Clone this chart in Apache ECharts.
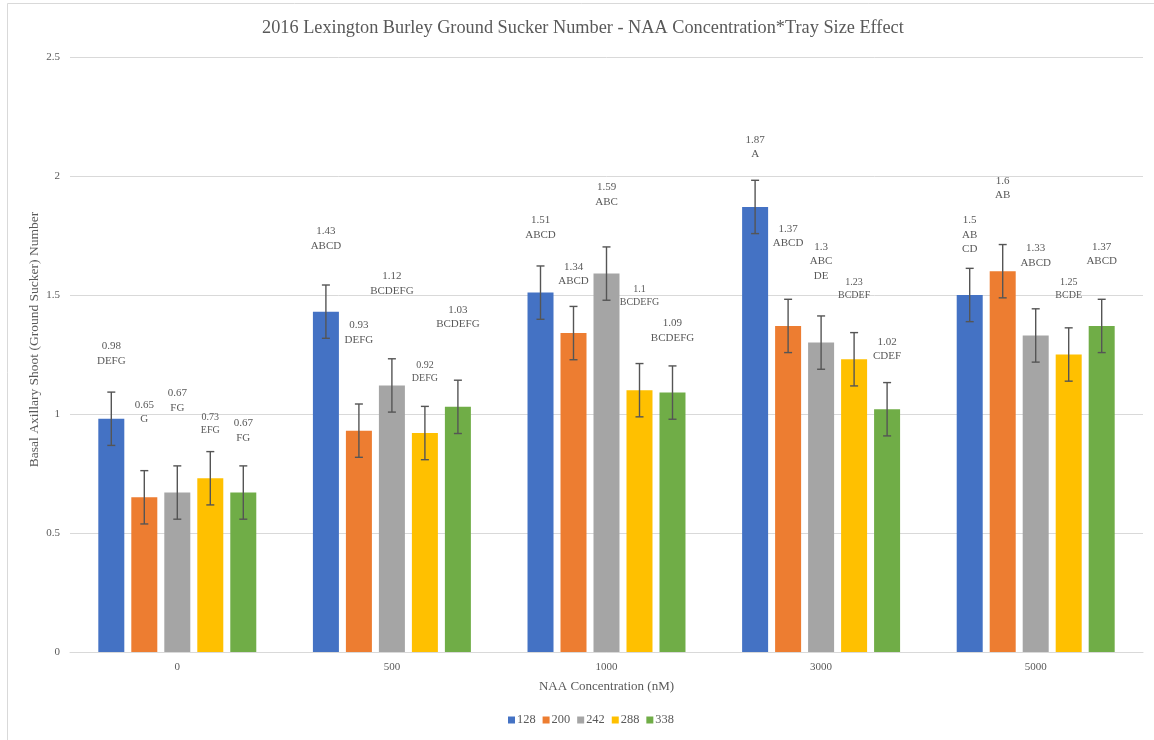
<!DOCTYPE html>
<html>
<head>
<meta charset="utf-8">
<script src="https://cdn.jsdelivr.net/npm/echarts@6/dist/echarts.min.js"></script>
<style>
  html, body { margin: 0; padding: 0; background: #fff; }
  #chart { width: 1154px; height: 740px; }
</style>
</head>
<body>
<div id="chart"></div>
<script>
// NAA concentration groups (nM) and tray sizes (cells per tray)
const categories = ['0', '500', '1000', '3000', '5000'];
const trays = ['128', '200', '242', '288', '338'];

// Mean ground sucker number per tray size, one value per NAA concentration
const t128 = [0.98, 1.43, 1.51, 1.87, 1.50];
const t200 = [0.65, 0.93, 1.34, 1.37, 1.60];
const t242 = [0.67, 1.12, 1.59, 1.30, 1.33];
const t288 = [0.73, 0.92, 1.10, 1.23, 1.25];
const t338 = [0.67, 1.03, 1.09, 1.02, 1.37];

// Standard error of each mean
const e128 = [0.112, 0.112, 0.112, 0.112, 0.112];
const e200 = [0.112, 0.112, 0.112, 0.112, 0.112];
const e242 = [0.112, 0.112, 0.112, 0.112, 0.112];
const e288 = [0.112, 0.112, 0.112, 0.112, 0.112];
const e338 = [0.112, 0.112, 0.112, 0.112, 0.112];

// Mean separation letters
const g128 = ['DEFG', 'ABCD', 'ABCD', 'A', 'AB\nCD'];
const g200 = ['G', 'DEFG', 'ABCD', 'ABCD', 'AB'];
const g242 = ['FG', 'BCDEFG', 'ABC', 'ABC\nDE', 'ABCD'];
const g288 = ['EFG', 'DEFG', 'BCDEFG', 'BCDEF', 'BCDE'];
const g338 = ['FG', 'BCDEFG', 'BCDEFG', 'CDEF', 'ABCD'];

const yTicks = { min: 0, max: 2.5, interval: 0.5 };

// How far (px) each label block's centre sits above its bar top
const lift128 = [65, 73, 65, 60, 60];
const lift200 = [85, 98, 59, 90, 83];
const lift242 = [92, 102, 79, 81, 80];
const lift288 = [54, 61, 94, 70, 66];
const lift338 = [62, 90, 62, 60, 72];

const values = [t128, t200, t242, t288, t338];
const errors = [e128, e200, e242, e288, e338];
const letters = [g128, g200, g242, g288, g338];
const lifts = [lift128, lift200, lift242, lift288, lift338];
const colors = ['#4472C4', '#ED7D31', '#A5A5A5', '#FFC000', '#70AD47'];

const FONT = '"Liberation Serif", "DejaVu Serif", serif';
const TEXT = '#595959';
const BAR_W = 26;
const BAR_GAP = 7;

const barSeries = trays.map((name, s) => {
  const small = s === 3;
  const fontSize = small ? 10 : 11;
  const lineH = small ? 13 : 14.5;
  return {
    name: name,
    type: 'bar',
    barWidth: BAR_W,
    barGap: (BAR_GAP / BAR_W * 100).toFixed(1) + '%',
    itemStyle: { color: colors[s] },
    data: values[s].map((v, i) => {
      const text = v + '\n' + letters[s][i];
      const lines = text.split('\n').length;
      return {
        value: v,
        label: {
          show: true,
          position: 'top',
          distance: lifts[s][i] - lines * lineH / 2,
          formatter: text,
          fontFamily: FONT,
          fontSize: fontSize,
          lineHeight: lineH,
          color: TEXT
        }
      };
    })
  };
});

// Error bars: [category index, series index, mean, error]
const errData = [];
values.forEach((arr, s) => arr.forEach((v, i) => errData.push([i, s, v, errors[s][i]])));

const errorSeries = {
  type: 'custom',
  name: 'se',
  silent: true,
  z: 5,
  encode: { x: 0, y: 2 },
  data: errData,
  renderItem: function (params, api) {
    const ci = api.value(0);
    const s = api.value(1);
    const v = api.value(2);
    const e = api.value(3);
    const dx = (s - 2) * (BAR_W + BAR_GAP);
    const hi = api.coord([ci, v + e]);
    const lo = api.coord([ci, v - e]);
    const x = hi[0] + dx;
    const cap = 4;
    const style = { stroke: '#555555', lineWidth: 1.4 };
    return {
      type: 'group',
      children: [
        { type: 'line', shape: { x1: x, y1: hi[1], x2: x, y2: lo[1] }, style: style },
        { type: 'line', shape: { x1: x - cap, y1: hi[1], x2: x + cap, y2: hi[1] }, style: style },
        { type: 'line', shape: { x1: x - cap, y1: lo[1], x2: x + cap, y2: lo[1] }, style: style }
      ]
    };
  }
};

const chart = echarts.init(document.getElementById('chart'), null, { renderer: 'canvas' });
chart.setOption({
  animation: false,
  backgroundColor: '#fff',
  textStyle: { fontFamily: FONT, color: TEXT },
  graphic: [{
    type: 'rect',
    shape: { x: 7.5, y: 3.5, width: 1300, height: 900 },
    style: { fill: 'none', stroke: '#d9d9d9', lineWidth: 1 },
    silent: true
  }],
  title: {
    text: '2016 Lexington Burley Ground Sucker Number - NAA Concentration*Tray Size Effect',
    left: 262,
    top: 19,
    padding: 0,
    textStyle: { fontFamily: FONT, fontSize: 18.3, fontWeight: 'normal', color: TEXT }
  },
  legend: {
    data: trays,
    bottom: 9,
    left: 503,
    icon: 'rect',
    itemWidth: 7,
    itemHeight: 7,
    itemGap: 7,
    textStyle: { fontFamily: FONT, fontSize: 12.4, color: TEXT, padding: [0, 0, 0, -3] }
  },
  grid: { left: 70, right: 11, top: 57, bottom: 88 },
  xAxis: {
    type: 'category',
    data: categories,
    name: 'NAA Concentration (nM)',
    nameLocation: 'middle',
    nameGap: 28,
    nameTextStyle: { fontFamily: FONT, fontSize: 13, color: TEXT },
    axisLine: { lineStyle: { color: '#d9d9d9' } },
    axisTick: { show: false },
    axisLabel: { fontFamily: FONT, fontSize: 11, color: TEXT, margin: 10 }
  },
  yAxis: {
    type: 'value',
    min: yTicks.min,
    max: yTicks.max,
    interval: yTicks.interval,
    name: 'Basal Axillary Shoot (Ground Sucker) Number',
    nameLocation: 'middle',
    nameGap: 29,
    nameMoveOverlap: false,
    nameTextStyle: { fontFamily: FONT, fontSize: 13.5, color: TEXT, padding: [0, 0, 0, 30] },
    axisLine: { show: false },
    axisTick: { show: false },
    axisLabel: { fontFamily: FONT, fontSize: 11, color: TEXT, margin: 10 },
    splitLine: { lineStyle: { color: '#d9d9d9' } }
  },
  series: barSeries.concat([errorSeries])
});
</script>
</body>
</html>
